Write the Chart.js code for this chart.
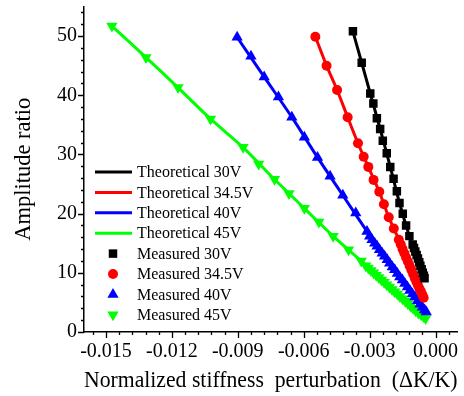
<!DOCTYPE html>
<html>
<head>
<meta charset="utf-8">
<script src="https://cdn.jsdelivr.net/npm/chart.js@4.4.1/dist/chart.umd.min.js"></script>
<style>
  html, body { margin: 0; padding: 0; background: #fff; }
  canvas { display: block; }
</style>
</head>
<body>
<canvas id="chart" width="464" height="396"></canvas>
<script>
// 坐标轴刻度
const xTickValues = [-0.015, -0.012, -0.009, -0.006, -0.003, 0.000];
const yTickValues = [0, 10, 20, 30, 40, 50];

// 理论曲线 30V / 34.5V / 40V / 45V
const theo30X = [-0.00376, -0.00336, -0.00297, -0.00252, -0.00206, -0.00164, -0.00119, -0.00080, -0.00050];
const theo30Y = [50.8, 45.5, 40.3, 34.3, 27.9, 21.8, 16.2, 12.2, 9.1];
const theo345X = [-0.00547, -0.00496, -0.00448, -0.00400, -0.00353, -0.00306, -0.00256, -0.00213, -0.00167, -0.00110, -0.00054];
const theo345Y = [49.9, 45.0, 40.9, 36.3, 31.9, 27.9, 23.7, 19.4, 15.6, 10.5, 5.8];
const theo40X = [-0.00903, -0.00780, -0.00654, -0.00537, -0.00422, -0.00312, -0.00200, -0.00105, -0.00042];
const theo40Y = [49.8, 43.1, 36.3, 29.5, 23.1, 17.0, 10.9, 6.4, 3.4];
const theo45X = [-0.01473, -0.01318, -0.01172, -0.01024, -0.00876, -0.00733, -0.00597, -0.00466, -0.00338, -0.00200, -0.00045];
const theo45Y = [51.7, 46.4, 41.3, 36.0, 31.2, 25.8, 20.9, 16.2, 12.0, 7.4, 2.3];

// 实测数据
const meas30X = [-0.00376, -0.00336, -0.00297, -0.00283, -0.00267, -0.00252, -0.00240, -0.00222, -0.00206, -0.00191,
  -0.00176, -0.00164, -0.00149, -0.00134, -0.00119, -0.00104, -0.00098, -0.00092, -0.00086, -0.00080,
  -0.00074, -0.00069, -0.00063, -0.00058, -0.00053, -0.00050];
const meas30Y = [50.8, 45.5, 40.3, 38.6, 36.1, 34.3, 32.3, 30.2, 27.9, 25.9,
  23.8, 21.8, 20.0, 18.0, 16.2, 14.8, 14.2, 13.6, 13.0, 12.4,
  11.8, 11.2, 10.6, 10.0, 9.5, 9.1];
const meas345X = [-0.00547, -0.00496, -0.00448, -0.00400, -0.00353, -0.00327, -0.00306, -0.00282, -0.00256, -0.00235,
  -0.00213, -0.00190, -0.00167, -0.00158, -0.00150, -0.00142, -0.00134, -0.00126, -0.00118, -0.00110,
  -0.00102, -0.00094, -0.00087, -0.00080, -0.00073, -0.00066, -0.00060, -0.00054];
const meas345Y = [49.9, 45.0, 40.9, 36.3, 31.9, 29.6, 27.9, 25.7, 23.7, 21.6,
  19.4, 17.5, 15.6, 14.8, 14.0, 13.3, 12.6, 11.9, 11.2, 10.5,
  9.8, 9.1, 8.5, 7.9, 7.3, 6.8, 6.3, 5.8];
const meas40X = [-0.00903, -0.00840, -0.00780, -0.00715, -0.00654, -0.00597, -0.00537, -0.00480, -0.00422, -0.00363,
  -0.00312, -0.00300, -0.00289, -0.00277, -0.00266, -0.00255, -0.00243, -0.00232, -0.00220, -0.00209,
  -0.00197, -0.00186, -0.00174, -0.00163, -0.00151, -0.00140, -0.00128, -0.00117, -0.00105, -0.00094,
  -0.00082, -0.00071, -0.00060, -0.00050, -0.00042];
const meas40Y = [49.8, 46.6, 43.1, 39.7, 36.3, 32.9, 29.5, 26.3, 23.1, 20.1,
  17.0, 16.2, 15.6, 15.0, 14.5, 13.9, 13.3, 12.8, 12.2, 11.6,
  11.0, 10.5, 9.9, 9.3, 8.8, 8.2, 7.6, 7.0, 6.4, 5.9,
  5.3, 4.7, 4.2, 3.7, 3.4];
const meas45X = [-0.01473, -0.01318, -0.01172, -0.01024, -0.00876, -0.00805, -0.00733, -0.00667, -0.00597, -0.00531,
  -0.00466, -0.00396, -0.00338, -0.00318, -0.00306, -0.00294, -0.00282, -0.00270, -0.00258, -0.00246,
  -0.00234, -0.00222, -0.00210, -0.00198, -0.00186, -0.00174, -0.00162, -0.00150, -0.00138, -0.00126,
  -0.00114, -0.00102, -0.00090, -0.00078, -0.00066, -0.00055, -0.00045];
const meas45Y = [51.7, 46.4, 41.3, 36.0, 31.2, 28.4, 25.8, 23.4, 20.9, 18.6,
  16.2, 13.9, 12.0, 11.2, 10.8, 10.4, 10.0, 9.6, 9.2, 8.8,
  8.4, 8.0, 7.6, 7.2, 6.8, 6.4, 6.0, 5.6, 5.2, 4.8,
  4.4, 4.0, 3.6, 3.2, 2.9, 2.6, 2.3];

const seriesLabels = ['Theoretical 30V', 'Theoretical 34.5V', 'Theoretical 40V', 'Theoretical 45V',
  'Measured 30V', 'Measured 34.5V', 'Measured 40V', 'Measured 45V'];
const seriesColors = ['#000000', '#ff0000', '#0000ff', '#00ff00'];

const FONT = '"Liberation Serif", "Times New Roman", serif';

function toPoints(xs, ys) {
    return xs.map((x, i) => ({ x: x, y: ys[i] }));
}

function lineSet(label, xs, ys, color) {
    return {
        label: label,
        data: toPoints(xs, ys),
        showLine: true,
        borderColor: color,
        backgroundColor: color,
        borderWidth: 3,
        pointRadius: 0,
        tension: 0.3,
        order: 2
    };
}

function markSet(label, xs, ys, color, style, radius, rotation) {
    return {
        label: label,
        data: toPoints(xs, ys),
        showLine: false,
        borderColor: color,
        backgroundColor: color,
        pointStyle: style,
        pointRadius: radius,
        pointRotation: rotation || 0,
        pointBorderWidth: 0,
        order: 1
    };
}

// 坐标轴小刻度（向外）
const axisTicks = {
    id: 'axisTicks',
    afterDraw(chart) {
        const ctx = chart.ctx;
        const xs = chart.scales.x;
        const ys = chart.scales.y;
        const area = chart.chartArea;
        ctx.save();
        ctx.strokeStyle = '#000';
        ctx.lineWidth = 1.3;
        ctx.beginPath();
        for (let k = -26; k <= 1; k++) {
            const px = Math.round(xs.getPixelForValue(k * 0.0006)) + 0.5;
            const len = k % 5 === 0 ? 6 : 3;
            ctx.moveTo(px, area.bottom);
            ctx.lineTo(px, area.bottom + len);
        }
        for (let k = 0; k <= 27; k++) {
            const py = Math.round(ys.getPixelForValue(k * 2)) + 0.5;
            const len = k % 5 === 0 ? 6 : 3;
            ctx.moveTo(area.left, py);
            ctx.lineTo(area.left - len, py);
        }
        ctx.stroke();
        ctx.restore();
    }
};

// 图内图例
const insideLegend = {
    id: 'insideLegend',
    afterDraw(chart) {
        const ctx = chart.ctx;
        ctx.save();
        ctx.font = '16px ' + FONT;
        ctx.textBaseline = 'middle';
        chart.data.datasets.forEach((ds, i) => {
            const y = 172 + i * 20.4;
            if (ds.showLine) {
                ctx.strokeStyle = ds.borderColor;
                ctx.lineWidth = 3;
                ctx.beginPath();
                ctx.moveTo(95, y);
                ctx.lineTo(132, y);
                ctx.stroke();
            } else {
                ctx.fillStyle = ds.backgroundColor;
                ctx.strokeStyle = ds.borderColor;
                Chart.helpers.drawPoint(ctx, {
                    pointStyle: ds.pointStyle,
                    rotation: ds.pointRotation,
                    radius: ds.pointRadius,
                    borderWidth: 0
                }, 113, y);
            }
            ctx.fillStyle = '#000';
            ctx.fillText(ds.label, 137, y + 1);
        });
        ctx.restore();
    }
};

const ctx = document.getElementById('chart').getContext('2d');
const chart = new Chart(ctx, {
    type: 'scatter',
    data: {
        datasets: [
            lineSet(seriesLabels[0], theo30X, theo30Y, seriesColors[0]),
            lineSet(seriesLabels[1], theo345X, theo345Y, seriesColors[1]),
            lineSet(seriesLabels[2], theo40X, theo40Y, seriesColors[2]),
            lineSet(seriesLabels[3], theo45X, theo45Y, seriesColors[3]),
            markSet(seriesLabels[4], meas30X, meas30Y, seriesColors[0], 'rect', 6),
            markSet(seriesLabels[5], meas345X, meas345Y, seriesColors[1], 'circle', 5),
            markSet(seriesLabels[6], meas40X, meas40Y, seriesColors[2], 'triangle', 6.5),
            markSet(seriesLabels[7], meas45X, meas45Y, seriesColors[3], 'triangle', 6.5, 180)
        ]
    },
    options: {
        responsive: false,
        animation: false,
        layout: { padding: { top: 3, right: 5, left: 0, bottom: 0 } },
        plugins: {
            legend: { display: false },
            tooltip: { enabled: false }
        },
        scales: {
            x: {
                type: 'linear',
                min: -0.016,
                max: 0.001,
                afterBuildTicks: scale => { scale.ticks = xTickValues.map(v => ({ value: v })); },
                afterFit: scale => {
                    scale.height = 64;
                    scale.paddingLeft = 0;
                    scale.paddingRight = 0;
                },
                grid: { display: false, drawTicks: false },
                border: { display: true, color: '#000', width: 1.5 },
                ticks: {
                    color: '#000',
                    padding: 8,
                    maxRotation: 0,
                    font: { family: FONT, size: 20 },
                    callback: v => v.toFixed(3)
                },
                title: {
                    display: true,
                    text: 'Normalized stiffness  perturbation  (ΔK/K)',
                    color: '#000',
                    font: { family: FONT, size: 23 },
                    padding: { top: 0, bottom: 1 }
                }
            },
            y: {
                type: 'linear',
                min: 0,
                max: 55,
                afterBuildTicks: scale => { scale.ticks = yTickValues.map(v => ({ value: v })); },
                afterFit: scale => {
                    scale.width = 84;
                    scale.paddingTop = 0;
                    scale.paddingBottom = 0;
                },
                grid: { display: false, drawTicks: false },
                border: { display: true, color: '#000', width: 1.5 },
                ticks: {
                    color: '#000',
                    padding: 7,
                    font: { family: FONT, size: 20 }
                },
                title: {
                    display: true,
                    text: 'Amplitude ratio',
                    color: '#000',
                    font: { family: FONT, size: 22.5 },
                    padding: { top: 11, bottom: 0 }
                }
            }
        }
    },
    plugins: [axisTicks, insideLegend]
});
</script>
</body>
</html>
